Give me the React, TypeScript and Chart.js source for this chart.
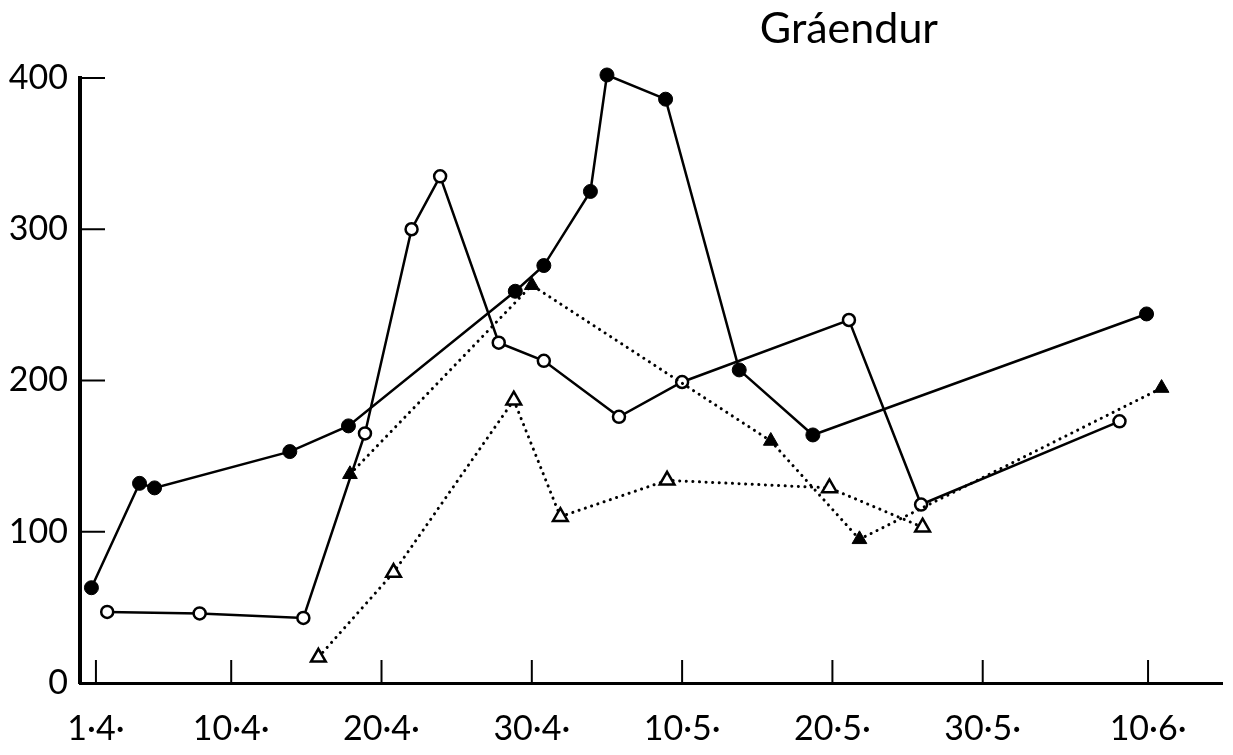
import { useEffect, useRef } from 'react';
import { Chart, registerables } from 'chart.js';

Chart.register(...registerables);

const TITLE = 'Gráendur';
const TITLE_DAY = 50.1;

// x positions are days counted from 1 April (day 0)
const X_TICK_DAYS = [0, 9, 19, 29, 39, 49, 59, 70];
const X_TICK_LABELS = ['1·4·', '10·4·', '20·4·', '30·4·', '10·5·', '20·5·', '30·5·', '10·6·'];
const Y_TICKS = [0, 100, 200, 300, 400];

const filledCircleDays = [-0.3, 2.9, 3.9, 12.9, 16.8, 27.9, 29.8, 32.9, 34.0, 37.9, 42.8, 47.7, 69.9];
const filledCircleValues = [63, 132, 129, 153, 170, 259, 276, 325, 402, 386, 207, 164, 244];

const openCircleDays = [0.75, 6.9, 13.8, 17.9, 21.0, 22.9, 26.8, 29.8, 34.8, 39.0, 50.1, 54.9, 68.1];
const openCircleValues = [47, 46, 43, 165, 300, 335, 225, 213, 176, 199, 240, 118, 173];

const filledTriangleDays = [16.9, 29.0, 44.9, 50.8, 70.9];
const filledTriangleValues = [138, 263, 160, 95, 195];

const openTriangleDays = [14.8, 19.8, 27.8, 30.9, 38.0, 48.8, 55.0];
const openTriangleValues = [17, 73, 187, 110, 134, 129, 103];

const toPoints = (xs: number[], ys: number[]) => xs.map((x, i) => ({ x, y: ys[i] }));

const FONT = 'Lato, "Open Sans", sans-serif';

const axisDecor = {
  id: 'axisDecor',
  beforeDatasetsDraw(chart: any) {
    const { ctx, chartArea, scales } = chart;
    ctx.save();
    ctx.strokeStyle = '#000';
    ctx.lineWidth = 2;
    Y_TICKS.forEach((v) => {
      if (v === 0) return;
      const y = scales.y.getPixelForValue(v);
      ctx.beginPath();
      ctx.moveTo(chartArea.left, y);
      ctx.lineTo(chartArea.left + 25, y);
      ctx.stroke();
    });
    X_TICK_DAYS.forEach((d) => {
      const x = scales.x.getPixelForValue(d);
      ctx.beginPath();
      ctx.moveTo(x, chartArea.bottom);
      ctx.lineTo(x, chartArea.bottom - 23);
      ctx.stroke();
    });
    ctx.restore();
  },
  afterDraw(chart: any) {
    const { ctx, chartArea, scales } = chart;
    ctx.save();
    ctx.fillStyle = '#000';
    ctx.font = `43px ${FONT}`;
    ctx.textAlign = 'center';
    ctx.textBaseline = 'alphabetic';
    ctx.fillText(TITLE, scales.x.getPixelForValue(TITLE_DAY), chartArea.top - 35);
    ctx.restore();
  },
};

export default function App() {
  const ref = useRef<HTMLCanvasElement | null>(null);

  useEffect(() => {
    if (!ref.current) return;
    const solid = {
      borderColor: '#000',
      borderWidth: 2.5,
      showLine: true,
      clip: false as any,
      tension: 0,
    };
    const dotted = {
      borderColor: '#000',
      borderWidth: 3,
      borderDash: [0.1, 6.5],
      borderCapStyle: 'round' as const,
      showLine: true,
      clip: false as any,
      tension: 0,
    };
    const chart = new Chart(ref.current, {
      type: 'scatter',
      data: {
        datasets: [
          {
            ...dotted,
            label: 'open triangles',
            data: toPoints(openTriangleDays, openTriangleValues),
            pointStyle: 'triangle',
            pointRadius: 8.5,
            pointBackgroundColor: '#fff',
            pointBorderColor: '#000',
            pointBorderWidth: 2.5,
          },
          {
            ...dotted,
            label: 'filled triangles',
            data: toPoints(filledTriangleDays, filledTriangleValues),
            pointStyle: 'triangle',
            pointRadius: 8.5,
            pointBackgroundColor: '#000',
            pointBorderColor: '#000',
            pointBorderWidth: 1,
          },
          {
            ...solid,
            label: 'open circles',
            data: toPoints(openCircleDays, openCircleValues),
            pointStyle: 'circle',
            pointRadius: 6,
            pointBackgroundColor: '#fff',
            pointBorderColor: '#000',
            pointBorderWidth: 2.5,
          },
          {
            ...solid,
            label: 'filled circles',
            data: toPoints(filledCircleDays, filledCircleValues),
            pointStyle: 'circle',
            pointRadius: 7,
            pointBackgroundColor: '#000',
            pointBorderColor: '#000',
            pointBorderWidth: 1,
          },
        ],
      },
      options: {
        animation: false,
        responsive: true,
        maintainAspectRatio: false,
        layout: { padding: { top: 78, right: 8, left: 0, bottom: 0 } },
        plugins: {
          legend: { display: false },
          tooltip: { enabled: false },
          title: { display: false },
        },
        scales: {
          x: {
            type: 'linear',
            min: -1.06,
            max: 74.92,
            grid: { display: false, drawTicks: false },
            border: { display: true, color: '#000', width: 3 },
            afterBuildTicks: (scale: any) => {
              scale.ticks = X_TICK_DAYS.map((v) => ({ value: v }));
            },
            afterFit: (scale: any) => {
              scale.height = 72;
            },
            ticks: {
              autoSkip: false,
              maxRotation: 0,
              padding: 26,
              color: '#000',
              font: { family: FONT, size: 34 },
              callback: (value: any) => {
                const i = X_TICK_DAYS.indexOf(Number(value));
                return i >= 0 ? X_TICK_LABELS[i] : '';
              },
            },
          },
          y: {
            type: 'linear',
            min: 0,
            max: 400,
            grid: { display: false, drawTicks: false },
            border: { display: true, color: '#000', width: 4 },
            afterBuildTicks: (scale: any) => {
              scale.ticks = Y_TICKS.map((v) => ({ value: v }));
            },
            afterFit: (scale: any) => {
              scale.width = 80;
            },
            ticks: {
              padding: 12,
              color: '#000',
              font: { family: FONT, size: 34 },
            },
          },
        },
      },
      plugins: [axisDecor],
    });
    return () => chart.destroy();
  }, []);

  return (
    <div style={{ position: 'fixed', left: 0, top: 0, width: 1233, height: 755, background: '#fff' }}>
      <canvas ref={ref} />
    </div>
  );
}
